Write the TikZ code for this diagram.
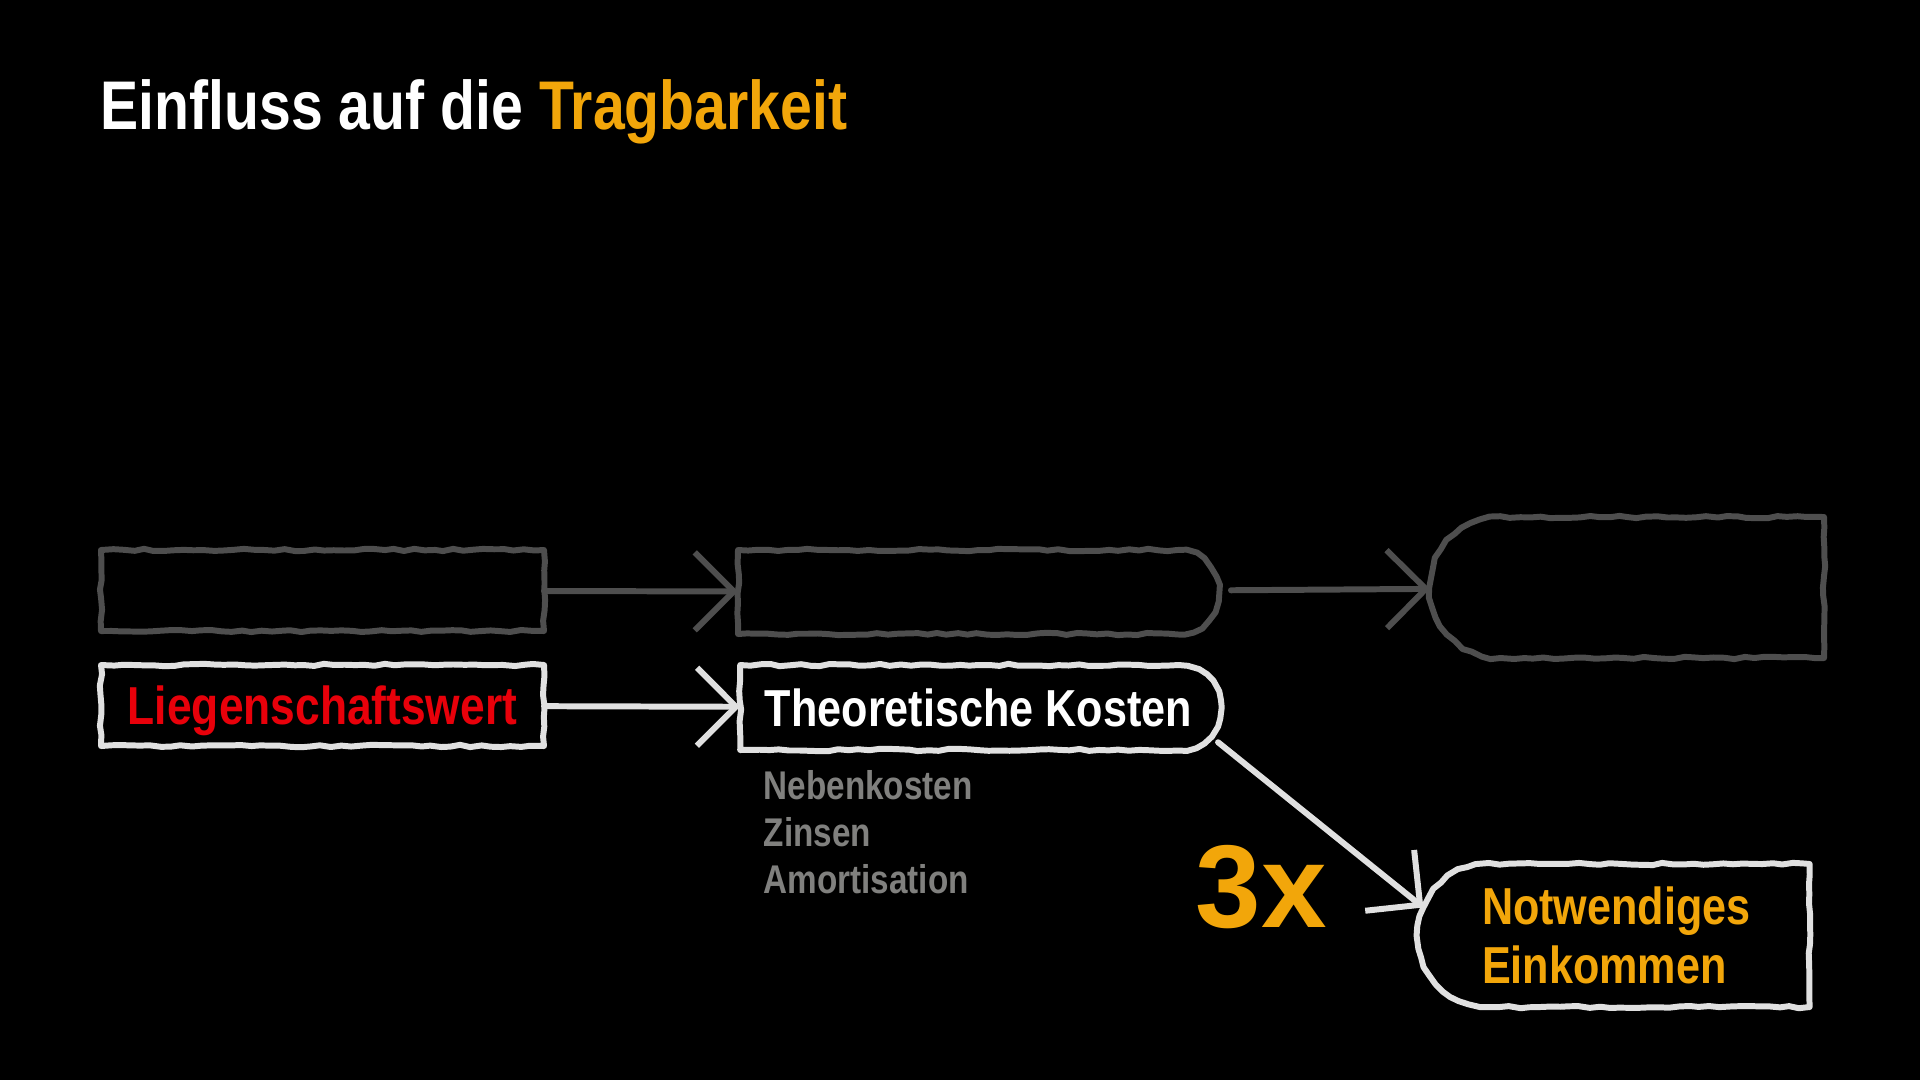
\documentclass[tikz,border=0pt]{standalone}
\usepackage{fontspec}
\setmainfont{Liberation Sans}[FakeStretch=0.83]
\newfontfamily\widefont{Liberation Sans}
\usetikzlibrary{arrows.meta,shapes.misc,decorations.pathmorphing}
\definecolor{chalkgray}{RGB}{78,78,78}
\definecolor{chalkwhite}{RGB}{224,224,224}
\definecolor{tragorange}{RGB}{242,166,10}
\definecolor{wertred}{RGB}{232,0,10}
\definecolor{subgray}{RGB}{128,128,126}
\begin{document}
\begin{tikzpicture}[x=0.1mm,y=-0.1mm,
    chalk/.style={line width=1.7pt,line join=round,decorate,
      decoration={random steps,segment length=1mm,amplitude=0.12mm}},
    box/.style={chalk,draw,rectangle,inner sep=0pt,outer sep=0pt,
      text depth=0pt,font=\bfseries\fontsize{14.8}{16.6}\selectfont},
    rbox/.style={box,rounded rectangle,rounded rectangle left arc=none},
    lbox/.style={box,rounded rectangle,rounded rectangle right arc=none},
    link/.style={line width=1.7pt,line cap=round,
      -{Straight Barb[length=3.9mm,width=7.8mm]}}]
  \pgfmathsetseed{11}
  \fill[black] (0,0) rectangle (1920,1080);
  \node[anchor=base west,inner sep=0pt,text=white,
    font=\bfseries\fontsize{19.6}{23}\selectfont] (title) at (100,129)
    {Einfluss auf die \textcolor{tragorange}{Tragbarkeit}};
  \draw
    (322.5,590.5) node[box,draw=chalkgray,minimum width=44.3mm,minimum height=8.1mm] (g1){}
    (978.5,592) node[rbox,draw=chalkgray,minimum width=48.1mm,minimum height=8.4mm] (g2){}
    (1627,587.5) node[lbox,draw=chalkgray,minimum width=39.4mm,minimum height=14.1mm] (g3){}
    (322.5,705.5) node[box,draw=chalkwhite,text=wertred,minimum width=44.3mm,minimum height=8.1mm,
      font=\bfseries\fontsize{15.2}{17}\selectfont] (w1){Liegenschaftswert}
    (978.5,707.5) node[rbox,draw=chalkwhite,text=white,minimum width=48.1mm,minimum height=8.5mm] (w2){Theoretische Kosten}
    (1623,935.5) node[lbox,draw=chalkwhite,text=tragorange,text width=28.2mm,text depth=,align=left,
      minimum width=39.2mm,minimum height=14.3mm] (w3){Notwendiges\\Einkommen};
  \node[anchor=north west,inner sep=0pt,align=left,text=subgray,
    font=\bfseries\fontsize{11.4}{13.3}\selectfont] (costs) at (763,770)
    {Nebenkosten\\Zinsen\\Amortisation};
  \node[anchor=base west,inner sep=0pt,text=tragorange,
    font=\widefont\bfseries\fontsize{33.5}{36}\selectfont] (factor) at (1195,927) {3x};
  \begin{scope}[link]
    \draw[chalkgray] (g1) to (g2);
    \draw[chalkgray,shorten <=1.2mm] (g2) to (g3);
    \draw[chalkwhite] (w1) to (w2);
    \draw[chalkwhite,shorten <=1mm] (w2.-7) to (w3.172);
  \end{scope}
\end{tikzpicture}
\end{document}
